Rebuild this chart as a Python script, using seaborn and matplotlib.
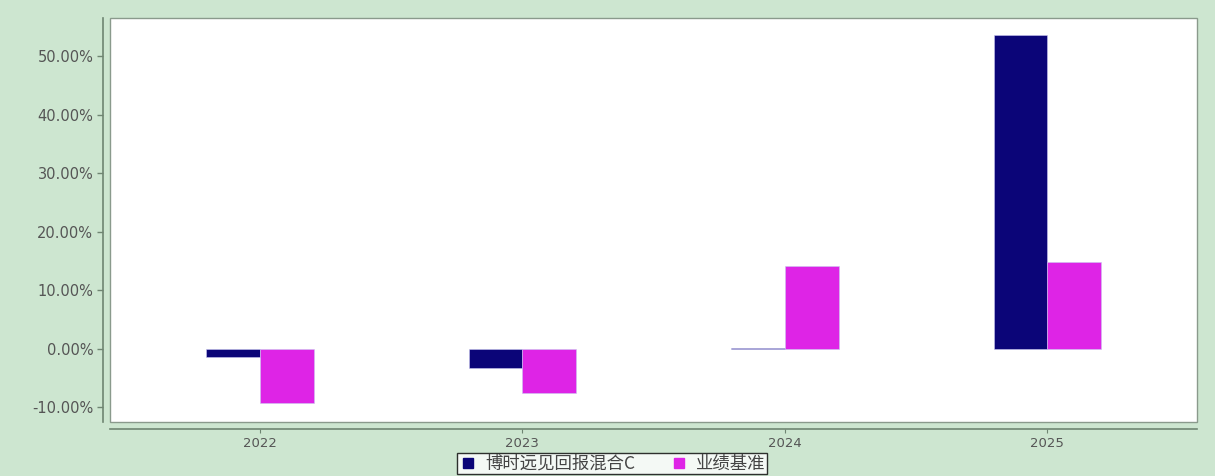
import matplotlib
matplotlib.use('Agg')
import matplotlib.pyplot as plt
from matplotlib.patches import Rectangle
from matplotlib.lines import Line2D
from matplotlib.ticker import FuncFormatter
import pandas as pd
import seaborn as sns

years = ['2022', '2023', '2024', '2025']
fund_name = '博时远见回报混合C'
bench_name = '业绩基准'
fund_returns = [-1.42, -3.3, 0.1, 53.6]
bench_returns = [-9.3, -7.5, 14.15, 14.85]
colors = {fund_name: '#0b0578', bench_name: '#de24e6'}

df = pd.DataFrame({
    'year': years * 2,
    'series': [fund_name] * len(years) + [bench_name] * len(years),
    'value': fund_returns + bench_returns,
})

sns.set_style('white')
plt.rcParams['font.family'] = ['DejaVu Sans']

bg = '#cde6d0'
fig = plt.figure(figsize=(12.15, 4.76), dpi=100, facecolor=bg)
ax = fig.add_axes([110 / 1215, 1 - 422 / 476, 1087 / 1215, 404 / 476])
ax.set_facecolor('white')

sns.barplot(data=df, x='year', y='value', hue='series', palette=colors,
            width=0.41, saturation=1, ax=ax, legend=False,
            edgecolor='#c9c6f0', linewidth=0.4)

ax.set_xlim(-0.571, 3.57)
ax.set_ylim(-12.5, 56.5)
ax.set_yticks([-10, 0, 10, 20, 30, 40, 50])
ax.yaxis.set_major_formatter(FuncFormatter(lambda v, p: f'{v:.2f}%'))
ax.set_xlabel('')
ax.set_ylabel('')

# plot frame and detached axis lines
ax.add_patch(Rectangle((0, 0), 1, 1, transform=ax.transAxes, fill=False,
                       edgecolor='#8a9a8c', linewidth=1, clip_on=False, zorder=5))
for side in ['top', 'right']:
    ax.spines[side].set_visible(False)
for side in ['left', 'bottom']:
    ax.spines[side].set_position(('outward', 5))
    ax.spines[side].set_color('#6f8572')
    ax.spines[side].set_linewidth(1.2)

ax.tick_params(axis='y', which='major', left=True, length=4, width=1,
               color='#6f8572', labelsize=10.5, labelcolor='#555555', pad=3)
ax.tick_params(axis='x', which='major', bottom=True, length=3, width=0.8,
               color='#6f8572', labelsize=9.5, labelcolor='#555555', pad=2.5)

handles = [Line2D([], [], marker='s', linestyle='', markersize=7,
                  color=colors[s]) for s in [fund_name, bench_name]]
leg = fig.legend(handles, [fund_name, bench_name], loc='upper center',
                 bbox_to_anchor=(0.504, 1 - 453 / 476), ncol=2,
                 frameon=True, fancybox=False, edgecolor='black',
                 handlelength=1.0, handletextpad=0.5, columnspacing=2.0,
                 borderpad=0.1, borderaxespad=0,
                 prop={'family': ['Noto Sans CJK SC', 'DejaVu Sans'], 'size': 12.5})
for t in leg.get_texts():
    t.set_color('#444444')
leg.get_frame().set_linewidth(1)

fig.savefig('out.png', dpi=100, facecolor=bg)
